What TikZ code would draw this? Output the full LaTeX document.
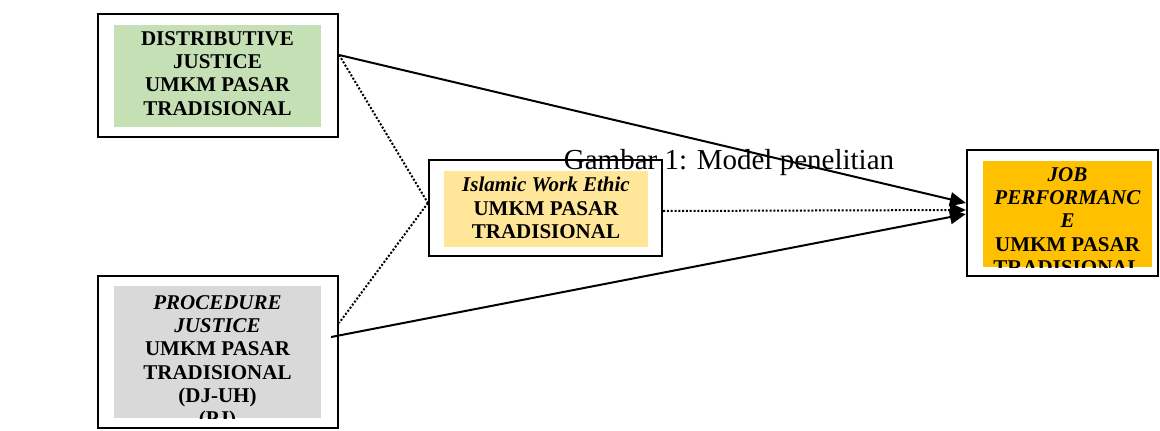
\documentclass[tikz,border=0pt]{standalone}
\usepackage{fontspec}
\setmainfont{Liberation Serif}
\usetikzlibrary{arrows.meta,calc}
\definecolor{djgreen}{HTML}{C5E0B4}
\definecolor{pjgray}{HTML}{D9D9D9}
\definecolor{iweyellow}{HTML}{FFE699}
\definecolor{jporange}{HTML}{FFC000}
\begin{document}
\begin{tikzpicture}[x=1pt,y=-1pt,
  frame/.style={draw=black, line width=2.2pt, fill=white, inner sep=0pt},
  boxtext/.style={anchor=north, align=center, inner sep=0pt,
    font=\fontsize{21}{23.3}\selectfont\bfseries},
  tip/.style={-{Triangle[length=16pt,width=14pt]}},
  solidlink/.style={line width=2pt, tip},
  dotlink/.style={line width=2pt, dash pattern=on 2pt off 1.8pt},
  dotarrow/.style={dotlink, tip},
]
\useasboundingbox (0,0) rectangle (1160,431);

% Distributive justice
\node[frame, minimum width=240pt, minimum height=123pt] (dj) at (218,75.5) {};
\fill[djgreen] (114,25) rectangle (321,127);
\begin{scope}
  \clip (114,25) rectangle (321,127);
  \node[boxtext] (djtext) at (217.5,31) {DISTRIBUTIVE\\JUSTICE\\UMKM PASAR\\TRADISIONAL};
\end{scope}

% Procedure justice
\node[frame, minimum width=240pt, minimum height=152pt] (pj) at (218,352) {};
\fill[pjgray] (114,286) rectangle (321,418);
\begin{scope}
  \clip (114,286) rectangle (321,418);
  \node[boxtext] (pjtext) at (217.5,295) {\textit{PROCEDURE}\\\textit{JUSTICE}\\UMKM PASAR\\TRADISIONAL\\(DJ-UH)\\(PJ)};
\end{scope}

% Islamic work ethic
\node[frame, minimum width=233pt, minimum height=96pt] (iwe) at (545.5,208) {};
\fill[iweyellow] (444,171) rectangle (648,247);
\begin{scope}
  \clip (444,171) rectangle (648,247);
  \node[boxtext] (iwetext) at (546,177) {\textit{Islamic Work Ethic}\\UMKM PASAR\\TRADISIONAL};
\end{scope}

% Job performance
\node[frame, minimum width=191pt, minimum height=126pt] (jp) at (1062.5,213) {};
\fill[jporange] (983,161) rectangle (1152,267);
\begin{scope}
  \clip (983,161) rectangle (1152,267);
  \node[boxtext] (jptext) at (1067.5,167) {\textit{JOB}\\\textit{PERFORMANC}\\\textit{E}\\UMKM PASAR\\TRADISIONAL};
\end{scope}

% Connectors
\draw[solidlink] ([yshift=20.5pt]dj.east) -- ([yshift=10pt]jp.west);
\draw[dotlink] ([yshift=20.5pt]dj.east) -- ([yshift=5pt]iwe.west);
\draw[dotlink] ([yshift=5pt]iwe.west) -- ([yshift=29pt]pj.east);
\draw[solidlink] ([xshift=-8pt,yshift=15pt]pj.east) -- ([yshift=-1pt]jp.west);
\draw[dotarrow] ([yshift=-3pt]iwe.east) -- ([yshift=3pt]jp.west);

% Caption
\node[font=\fontsize{29}{32}\selectfont, anchor=base, inner sep=0pt] (caption) at (729,169) {Gambar 1: Model penelitian};
\end{tikzpicture}
\end{document}
